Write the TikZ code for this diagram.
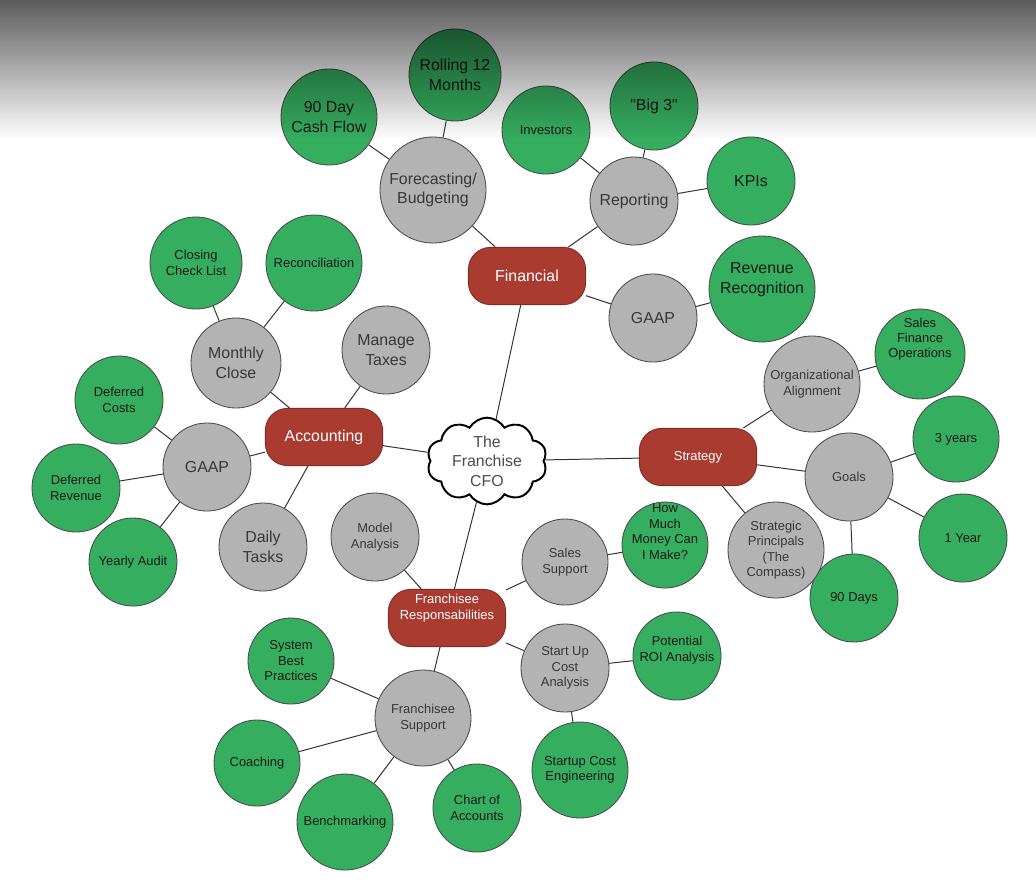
\documentclass[tikz,border=0pt]{standalone}
\usepackage{fontspec}
\setmainfont{Liberation Sans}[Ligatures=TeXOff]
\usetikzlibrary{shapes.symbols, backgrounds}
\definecolor{leafgreen}{HTML}{36AE60}
\definecolor{twiggray}{HTML}{B3B3B3}
\definecolor{hubred}{HTML}{AA3B31}
\definecolor{linkgray}{HTML}{333333}
\definecolor{rimgray}{HTML}{4A4A4A}

\begin{document}
\begin{tikzpicture}[x=0.025cm, y=-0.025cm,
    bubble/.style={circle, draw=rimgray, line width=0.6pt, inner sep=0pt, minimum size=#1*0.05cm, align=center},
    leaf/.style={bubble=#1, fill=leafgreen, text=black!90},
    twig/.style={bubble=#1, fill=twiggray, text=black!78},
    hub/.style={rectangle, rounded corners=0.55cm, draw=hubred!75!black, line width=0.6pt, fill=hubred, text=white,
      minimum width=2.93cm, minimum height=1.43cm, align=center},
    rootcloud/.style={cloud, cloud puffs=10, cloud puff arc=120, aspect=1.4, draw=black, line width=1.4pt, fill=white,
      text=black!70, minimum width=3cm, minimum height=2.1cm, inner sep=0pt, align=center},
    bigtxt/.style={font=\fontsize{11.3}{14}\selectfont},
    smalltxt/.style={font=\fontsize{9.2}{11}\selectfont},
    lift/.style={text depth=#1, inner sep=-0.5*#1},
    link/.style={draw=linkgray, line width=0.7pt}]
  \useasboundingbox (0,0) rectangle (1036,895);

  % centre
  \node[rootcloud, bigtxt] (cfo) at (487,461) {The\\Franchise\\CFO};

  % four main areas
  \node[hub, bigtxt] (fin) at (527,276) {Financial};
  \node[hub, bigtxt] (acc) at (324,437) {Accounting};
  \node[hub, smalltxt] (strat) at (698,457) {Strategy};
  \node[hub, smalltxt, lift=16pt] (fres) at (447,618) {Franchisee\\Responsabilities};

  % Financial
  \node[twig=53, bigtxt] (fcst) at (433,190) {Forecasting/\\Budgeting};
  \node[leaf=46, bigtxt] (roll) at (455,75) {Rolling 12\\Months};
  \node[leaf=48, bigtxt] (cash) at (329,117) {90 Day\\Cash Flow};
  \node[twig=44, bigtxt] (rep) at (634,201) {Reporting};
  \node[leaf=44, smalltxt] (inv) at (546,130) {Investors};
  \node[leaf=44, bigtxt] (big3) at (654,106) {"Big 3"};
  \node[leaf=44, bigtxt] (kpi) at (751,181) {KPIs};
  \node[twig=44, bigtxt] (fgaap) at (653,318) {GAAP};
  \node[leaf=53, bigtxt, lift=16pt] (rev) at (762,289) {Revenue\\Recognition};

  % Accounting
  \node[twig=45, bigtxt] (mclose) at (236,363) {Monthly\\Close};
  \node[leaf=46, smalltxt] (check) at (196,263) {Closing\\Check List};
  \node[leaf=48, smalltxt] (recon) at (314,263) {Reconciliation};
  \node[twig=44, bigtxt] (tax) at (386,350) {Manage\\Taxes};
  \node[twig=44, bigtxt] (agaap) at (207,467) {GAAP};
  \node[leaf=44, smalltxt] (dcost) at (119,400) {Deferred\\Costs};
  \node[leaf=44, smalltxt] (drev) at (76,488) {Deferred\\Revenue};
  \node[leaf=44, smalltxt] (audit) at (133,562) {Yearly Audit};
  \node[twig=44, bigtxt] (daily) at (263,547) {Daily\\Tasks};

  % Franchisee Responsabilities
  \node[twig=44, smalltxt] (model) at (375,537) {Model\\Analysis};
  \node[twig=43, smalltxt] (sales) at (565,562) {Sales\\Support};
  \node[leaf=43, smalltxt, lift=19pt] (money) at (665,545) {How\\Much\\Money Can\\I Make?};
  \node[twig=44, smalltxt] (startup) at (565,668) {Start Up\\Cost\\Analysis};
  \node[leaf=44, smalltxt, lift=10pt] (roi) at (677,656) {Potential\\ROI Analysis};
  \node[leaf=48, smalltxt] (engin) at (580,770) {Startup Cost\\Engineering};
  \node[twig=48, smalltxt] (fsup) at (423,718) {Franchisee\\Support};
  \node[leaf=43, smalltxt] (best) at (291,661) {System\\Best\\Practices};
  \node[leaf=43, smalltxt] (coach) at (257,763) {Coaching};
  \node[leaf=48, smalltxt] (bench) at (345,822) {Benchmarking};
  \node[leaf=44, smalltxt] (chart) at (477,808) {Chart of\\Accounts};

  % Strategy
  \node[twig=48, smalltxt] (align) at (812,384) {Organizational\\Alignment};
  \node[leaf=45, smalltxt, lift=23pt] (sfo) at (920,354) {Sales\\Finance\\Operations};
  \node[twig=44, smalltxt] (goals) at (849,477) {Goals};
  \node[leaf=43, smalltxt] (three) at (956,439) {3 years};
  \node[leaf=44, smalltxt] (one) at (963,538) {1 Year};
  \node[leaf=44, smalltxt] (ninety) at (854,598) {90 Days};
  \node[twig=48, smalltxt] (compass) at (776,550) {Strategic\\Principals\\(The\\Compass)};

  % connectors behind the bubbles
  \begin{scope}[on background layer]
    \fill[white] (0,0) rectangle (1036,895);
    \draw[link] (cfo) -- (fin) (cfo) -- (acc) (cfo) -- (strat) (cfo) -- (fres);
    \draw[link] (fin) -- (fcst) (fcst) -- (roll) (fcst) -- (cash) (fin) -- (rep) (rep) -- (inv)
      (rep) -- (big3) (rep) -- (kpi) (fin) -- (fgaap) (fgaap) -- (rev);
    \draw[link] (acc) -- (mclose) (mclose) -- (check) (mclose) -- (recon) (acc) -- (tax)
      (acc) -- (agaap) (agaap) -- (dcost) (agaap) -- (drev) (agaap) -- (audit) (acc) -- (daily);
    \draw[link] (fres) -- (model) (fres) -- (sales) (sales) -- (money) (fres) -- (startup)
      (startup) -- (roi) (startup) -- (engin) (fres) -- (fsup) (fsup) -- (best) (fsup) -- (coach)
      (fsup) -- (bench) (fsup) -- (chart);
    \draw[link] (strat) -- (align) (align) -- (sfo) (strat) -- (goals) (goals) -- (three)
      (goals) -- (one) (goals) -- (ninety) (strat) -- (compass);
  \end{scope}

  % grey shade across the top
  \begin{scope}[blend mode=multiply]
    \shade[top color=black!64, bottom color=white] (0,0) rectangle (1036,140);
  \end{scope}
\end{tikzpicture}
\end{document}
